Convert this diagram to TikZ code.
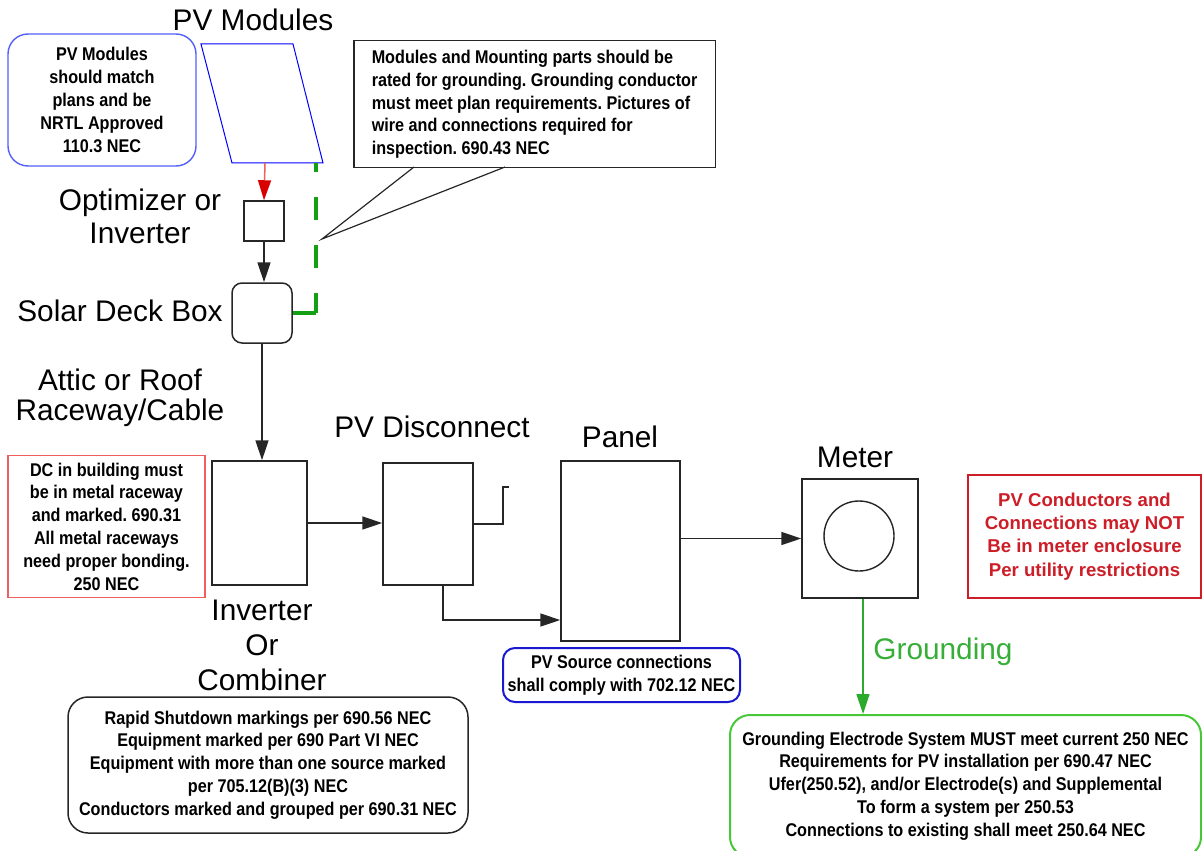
\documentclass[tikz,border=0pt]{standalone}
\usepackage{fontspec}
\setmainfont{Liberation Sans}
\newfontfamily\notefont[FakeStretch=0.88]{Liberation Sans}
\usetikzlibrary{arrows.meta}
\definecolor{modblue}{RGB}{85,95,250}
\definecolor{srcblue}{RGB}{25,25,210}
\definecolor{lightred}{RGB}{240,95,95}
\definecolor{utilred}{RGB}{205,30,40}
\definecolor{gndgreen}{RGB}{20,160,20}
\definecolor{boxgreen}{RGB}{70,200,55}

\begin{document}
\frenchspacing
\begin{tikzpicture}[x=0.5pt,y=0.5pt,every node/.style={inner sep=0pt},
  lbl/.style={font=\fontsize{14.9}{16.5}\selectfont,align=center},
  unitbox/.style={draw=black!85,line width=0.75pt},
  note/.style={font=\notefont\bfseries\fontsize{9.2}{11.4}\selectfont,align=center},
  wire/.style={draw=black!85,line width=0.75pt},
  arr/.style={-{Triangle[length=10pt,width=6.5pt]}}]
\useasboundingbox (0,0) rectangle (1202,-850);

% roof side
\node[lbl] (pvlbl) at (253,-20) {PV Modules};
\node[note,draw=modblue,line width=0.7pt,rounded corners=10pt,
  minimum width=94pt,minimum height=66pt] (modnote) at (102,-100)
  {PV Modules\\should match\\plans and be\\NRTL Approved\\110.3 NEC};
\draw[blue,line width=0.5pt] (201,-44) -- (293,-44) -- (323,-163) -- (232,-163) -- cycle;
\coordinate (pvbot) at (265,-163);
\coordinate (pvcorner) at (316,-163);

\node[lbl] (optlbl) at (140,-216) {Optimizer or\\Inverter};
\node[unitbox,minimum width=20pt,minimum height=20pt] (opt) at (264,-221) {};
\node[lbl] (decklbl) at (120,-311) {Solar Deck Box};
\node[unitbox,rounded corners=5pt,minimum width=30pt,minimum height=30pt] (deck) at (262,-313) {};
\coordinate (gc) at (316,-313);

\node[note,draw=black!85,line width=0.75pt,align=left,anchor=north west,inner xsep=9pt,
  minimum height=63.5pt] (bondnote) at (353,-40)
  {Modules and Mounting parts should be\\rated for grounding. Grounding conductor\\must meet plan requirements. Pictures of\\wire and connections required for\\inspection. 690.43 NEC};
\coordinate (tip) at (322,-239);

\draw[wire,draw=lightred,-{Triangle[length=10pt,width=6.5pt,color=red!85!black]}] (pvbot) -- (opt.north);
\draw[wire,arr] (opt.south) -- (opt.south |- deck.north);
\draw[gndgreen,line width=1.6pt,dash pattern=on 11.5pt off 12.5pt,dash phase=7pt] (pvcorner) -- (gc);
\draw[gndgreen,line width=1.6pt] (gc) -- (deck.east |- gc);
\draw[black!85,line width=0.6pt] (414,-167) -- (tip) -- (505,-167);

% building side
\node[lbl,font=\fontsize{14.9}{15}\selectfont] (atticlbl) at (120,-398) {Attic or Roof\\Raceway/Cable};
\node[note,draw=lightred,line width=0.6pt,minimum width=98.5pt,minimum height=71pt] (dcnote) at (106.5,-526.5)
  {DC in building must\\be in metal raceway\\and marked. 690.31\\All metal raceways\\need proper bonding.\\250 NEC};
\node[unitbox,minimum width=47.5pt,minimum height=62pt] (inv) at (259.5,-523) {};
\node[lbl,font=\fontsize{14.9}{17.5}\selectfont] (invlbl) at (262,-645) {Inverter\\Or\\Combiner};
\node[lbl] (disclbl) at (432,-427) {PV Disconnect};
\node[unitbox,minimum width=45pt,minimum height=61pt] (disc) at (428,-524) {};
\node[lbl] (panellbl) at (620,-437) {Panel};
\node[unitbox,minimum width=59.5pt,minimum height=90pt] (panel) at (620.5,-551) {};
\node[lbl] (meterlbl) at (855,-457) {Meter};
\node[unitbox,minimum width=58pt,minimum height=59.5pt] (meter) at (860,-538.5) {};
\node[draw=black!85,line width=0.7pt,circle,minimum size=35pt] (dial) at (859,-536) {};

\draw[wire,arr] (deck.south) -- (deck.south |- inv.north);
\draw[wire,arr] (inv.east) -- (inv.east -| disc.west);
\draw[wire] (disc.east) -- ++(29,0) -- ++(0,37) -- ++(6,0);
\draw[wire,arr] ([xshift=7.5pt]disc.south) |- ([yshift=-34.5pt]panel.west);
\draw[wire,arr] (meter.west -| panel.east) -- (meter.west);

\node[font=\bfseries\fontsize{9.3}{11.6}\selectfont,align=center,text=utilred,draw=utilred,line width=0.75pt,
  minimum width=116.5pt,minimum height=61.5pt] (utilnote) at (1084.5,-536.5)
  {PV Conductors and\\Connections may NOT\\Be in meter enclosure\\Per utility restrictions};
\node[note,draw=srcblue,line width=1pt,rounded corners=6pt,minimum width=118.5pt,minimum height=27pt] (srcnote) at (621.5,-675)
  {PV Source connections\\shall comply with 702.12 NEC};
\node[note,draw=black!85,line width=0.75pt,rounded corners=10pt,minimum width=200pt,minimum height=68pt] (rsdnote) at (268,-765)
  {Rapid Shutdown markings per 690.56 NEC\\Equipment marked per 690 Part VI NEC\\Equipment with more than one source marked\\per 705.12(B)(3) NEC\\Conductors marked and grouped per 690.31 NEC};
\node[note,draw=boxgreen,line width=1pt,rounded corners=10pt,minimum width=235.5pt,minimum height=71pt] (gesnote) at (965.5,-786)
  {Grounding Electrode System MUST meet current 250 NEC\\Requirements for PV installation per 690.47 NEC\\Ufer(250.52), and/or Electrode(s) and Supplemental\\To form a system per 250.53\\Connections to existing shall meet 250.64 NEC};
\node[lbl,anchor=west,text=gndgreen!85!white] (gndlbl) at (873,-652) {Grounding};
\draw[gndgreen!90!white,line width=0.75pt,-{Triangle[length=10pt,width=6.5pt]}] ([xshift=1.5pt]meter.south) -- ([xshift=1.5pt]meter.south |- gesnote.north);
\end{tikzpicture}
\end{document}
